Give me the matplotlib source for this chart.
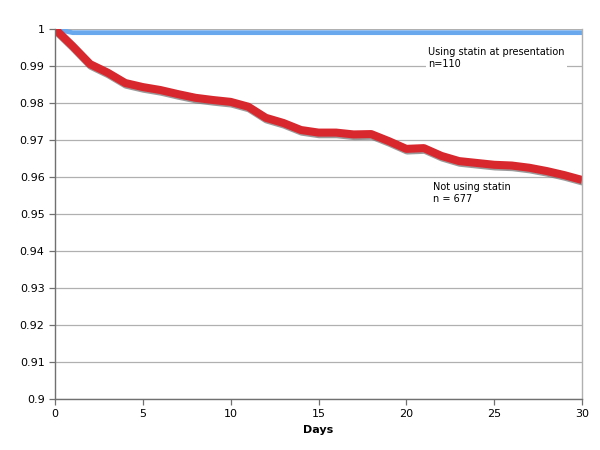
import matplotlib
matplotlib.use("Agg")
import matplotlib.pyplot as plt
import matplotlib.patheffects as pe

days = list(range(31))
not_statin = [1.0, 0.9954, 0.9905, 0.9882, 0.9854, 0.9843, 0.9835, 0.9824, 0.9814, 0.9808,
              0.9803, 0.9790, 0.9760, 0.9746, 0.9727, 0.9720, 0.9720, 0.9715, 0.9716, 0.9697,
              0.9676, 0.9678, 0.9657, 0.9643, 0.9638, 0.9633, 0.9631, 0.9625, 0.9616, 0.9605,
              0.9592]
statin_days = [0, 1, 30]
statin = [1.0, 0.9990, 0.9990]

yticks = [0.9, 0.91, 0.92, 0.93, 0.94, 0.95, 0.96, 0.97, 0.98, 0.99, 1]
ytick_labels = ["0.9", "0.91", "0.92", "0.93", "0.94", "0.95", "0.96", "0.97", "0.98", "0.99", "1"]
xticks = [0, 5, 10, 15, 20, 25, 30]

fig = plt.figure(figsize=(6, 4.5), dpi=100)
ax = fig.add_axes([0.0917, 0.1133, 0.8783, 0.8223])

for y in yticks:
    ax.axhline(y, color="#b0b0b0", lw=0.9, zorder=1)

ax.plot(statin_days, statin, color="#6aa8ee", lw=3.4, solid_capstyle="butt", zorder=3)
ax.plot(days, not_statin, color="#d9272e", lw=5.8, solid_capstyle="butt", solid_joinstyle="round",
        zorder=4,
        path_effects=[pe.SimpleLineShadow(offset=(0.6, -1.2), shadow_color="#707070", alpha=0.7),
                      pe.Normal()])

ax.set_xlim(0, 30)
ax.set_ylim(0.9, 1.0)
ax.set_xticks(xticks)
ax.set_xticklabels([str(x) for x in xticks])
ax.set_yticks(yticks)
ax.set_yticklabels(ytick_labels)
ax.tick_params(axis="both", labelsize=8, colors="#707070", labelcolor="black", length=4, width=0.9)
for s in ["left", "bottom", "right"]:
    ax.spines[s].set_color("#707070")
    ax.spines[s].set_linewidth(1.0)
    ax.spines[s].set_zorder(6)
ax.spines["right"].set_color("#b0b0b0")
ax.spines["top"].set_visible(False)

ax.set_xlabel("Days", fontsize=8, fontweight="bold", labelpad=4)

ax.text(21.25, 0.9922, "Using statin at presentation\nn=110", fontsize=7, va="center", ha="left",
        linespacing=1.3, zorder=2,
        bbox=dict(facecolor="white", edgecolor="none", pad=1.5))
ax.text(21.5, 0.9557, "Not using statin\nn = 677", fontsize=7, va="center", ha="left",
        linespacing=1.3, zorder=2)

fig.savefig("out.png", dpi=100)
